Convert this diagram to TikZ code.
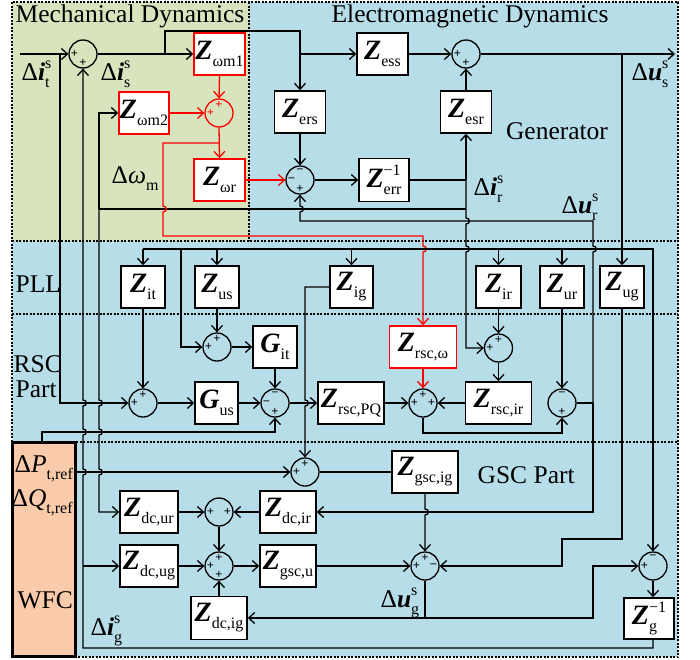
\documentclass[tikz,border=0pt]{standalone}
\usepackage{fontspec}
\setmainfont{Liberation Serif}
\usetikzlibrary{arrows.meta}
\definecolor{mech}{HTML}{D7E4BD}
\definecolor{emag}{HTML}{B7DDE8}
\definecolor{wfcc}{HTML}{F9CBAA}
\newcommand{\sbs}[1]{{\normalfont\fontsize{16}{16}\selectfont\raisebox{-7pt}{#1}}}
\newcommand{\supsb}[2]{{\normalfont\fontsize{16}{16}\selectfont\setbox0=\hbox{#1}\setbox2=\hbox{#2}\ifdim\wd0>\wd2 \dimen0=\wd0 \else \dimen0=\wd2 \fi\makebox[\dimen0][l]{\rlap{\raisebox{11.5pt}{#1}}\raisebox{-7pt}{#2}}}}
\newcommand{\bigZ}{{\fontsize{28}{28}\selectfont\bfseries\itshape Z}}
\newcommand{\bigG}{{\fontsize{28}{28}\selectfont\bfseries\itshape G}}
\newcommand{\Zl}[1]{\bigZ\sbs{#1}}
\newcommand{\Gl}[1]{\bigG\sbs{#1}}
\newcommand{\Zinv}[1]{\bigZ\supsb{−1}{#1}}
\newcommand{\sT}[3][black]{\node[sg,text=#1] at ([yshift=8.5pt]#2.center) {#3};}
\newcommand{\sB}[3][black]{\node[sg,text=#1] at ([yshift=-8.5pt]#2.center) {#3};}
\newcommand{\sL}[3][black]{\node[sg,text=#1] at ([xshift=-8.5pt]#2.center) {#3};}
\newcommand{\sR}[3][black]{\node[sg,text=#1] at ([xshift=8.5pt]#2.center) {#3};}
\begin{document}
\begin{tikzpicture}[x=1pt,y=-1pt,line width=1.3pt,
  arr/.style={-{Straight Barb[length=6pt,width=11pt,line width=1.3pt]}},
  blk/.style={draw,line width=1.5pt,fill=white,inner sep=0pt,minimum height=42pt},
  rblk/.style={blk,draw=red},
  sumc/.style={circle,draw,line width=1.3pt,minimum size=28pt,inner sep=0pt},
  sg/.style={inner sep=0pt,font=\fontsize{12.5}{12.5}\selectfont\bfseries},
  txt/.style={inner sep=0pt,font=\fontsize{25.5}{27}\selectfont},
  reg/.style={line width=1.3pt,dash pattern=on 2pt off 1.5pt}]
\useasboundingbox (0,0) rectangle (700,659);
% regions
\fill[emag] (12,2) rectangle (678,657);
\fill[mech] (12,2) rectangle (249,241);
\draw[reg] (12,2) rectangle (678,657);
\draw[reg] (249,2) -- (249,241);
\draw[reg] (12,241) -- (678,241);
\draw[reg] (12,314) -- (678,314);
\draw[reg] (76,442) -- (678,442);
\node[draw,line width=2.2pt,fill=wfcc,minimum width=63pt,minimum height=214pt,inner sep=0pt] (wfc) at (44,549.5) {};
% region texts
\node[txt,anchor=base] (tmech) at (130,22) {Mechanical Dynamics};
\node[txt,anchor=base] (temag) at (470,22) {Electromagnetic Dynamics};
\node[txt,anchor=base] (tgen) at (557,139) {Generator};
\node[txt,anchor=base west] (tpll) at (15,292) {PLL};
\node[txt,anchor=base west] (trsc) at (13,372) {RSC};
\node[txt,anchor=base west] (tpart) at (15,397) {Part};
\node[txt,anchor=base west] (tgsc) at (477,483) {GSC Part};
\node[txt,anchor=base west] (twfc) at (17,608) {WFC};
\node[txt,anchor=base west] (tp) at (14,472) {Δ\textit{P}\sbs{t,ref}};
\node[txt,anchor=base west] (tq) at (11,506) {Δ\textit{Q}\sbs{t,ref}};
% signal labels
\node[txt,anchor=base west] (lit) at (21,80) {Δ\textbf{\textit{i}}\supsb{s}{t}};
\node[txt,anchor=base west] (lis) at (100,80) {Δ\textbf{\textit{i}}\supsb{s}{s}};
\node[txt,anchor=base west] (lwm) at (111,183) {Δ\textit{ω}\sbs{m}};
\node[txt,anchor=base west] (lir) at (473,195) {Δ\textbf{\textit{i}}\supsb{s}{r}};
\node[txt,anchor=base west] (lur) at (561,213) {Δ\textbf{\textit{u}}\supsb{s}{r}};
\node[txt,anchor=base west] (lus) at (631,80) {Δ\textbf{\textit{u}}\supsb{s}{s}};
\node[txt,anchor=base west] (lug) at (380,607) {Δ\textbf{\textit{u}}\supsb{s}{g}};
\node[txt,anchor=base west] (lig) at (90,635) {Δ\textbf{\textit{i}}\supsb{s}{g}};
% blocks
\node[rblk,minimum width=51pt] (wm1) at (219.5,54) {\Zl{ωm1}};
\node[rblk,minimum width=50pt] (wm2) at (144,113) {\Zl{ωm2}};
\node[rblk,minimum width=51pt] (wr) at (219.5,180) {\Zl{ωr}};
\node[blk,minimum width=51pt] (ess) at (382.5,54) {\Zl{ess}};
\node[blk,minimum width=51pt] (ers) at (300,112) {\Zl{ers}};
\node[blk,minimum width=51pt] (esr) at (466,112) {\Zl{esr}};
\node[blk,minimum width=50pt,minimum height=43pt] (err) at (384,180) {\Zinv{err}};
\node[blk,minimum width=44pt] (Zit) at (143,287) {\Zl{it}};
\node[blk,minimum width=44pt] (Zus) at (217,287) {\Zl{us}};
\node[blk,minimum width=43pt] (Zig) at (351.5,287) {\Zl{ig}};
\node[blk,minimum width=45pt] (Zir) at (498.5,287) {\Zl{ir}};
\node[blk,minimum width=44pt] (Zur) at (562,287) {\Zl{ur}};
\node[blk,minimum width=44pt] (Zug) at (622,287) {\Zl{ug}};
\node[blk,minimum width=44pt] (Git) at (275,347) {\Gl{it}};
\node[blk,minimum width=43pt] (Gus) at (216.5,403) {\Gl{us}};
\node[blk,minimum width=66pt] (Zpq) at (351,403) {\Zl{rsc,PQ}};
\node[rblk,minimum width=67pt] (Zrw) at (423,347) {\Zl{rsc,ω}};
\node[blk,minimum width=66pt] (Zrir) at (498.5,403) {\Zl{rsc,ir}};
\node[blk,minimum width=66pt] (Zgig) at (425,472) {\Zl{gsc,ig}};
\node[blk,minimum width=58pt] (Zdcur) at (149,512) {\Zl{dc,ur}};
\node[blk,minimum width=56pt] (Zdcir) at (288,512) {\Zl{dc,ir}};
\node[blk,minimum width=58pt] (Zdcug) at (149,566) {\Zl{dc,ug}};
\node[blk,minimum width=56pt] (Zgsu) at (288,566) {\Zl{gsc,u}};
\node[blk,minimum width=56pt,minimum height=43pt] (Zdcig) at (219,618) {\Zl{dc,ig}};
\node[blk,minimum width=50pt,minimum height=41pt] (Zg) at (649,618.5) {\Zinv{g}};
% summing junctions
\node[sumc] (S1) at (83,54) {};
\node[sumc,draw=red] (Sw) at (219,113) {};
\node[sumc] (F) at (300,180) {};
\node[sumc] (G) at (466,54) {};
\node[sumc] (A) at (143,403) {};
\node[sumc] (B) at (217,347) {};
\node[sumc] (C) at (275,403) {};
\node[sumc] (D) at (423,403) {};
\node[sumc] (H) at (498.5,348) {};
\node[sumc] (E) at (562,403) {};
\node[sumc] (P) at (305,472) {};
\node[sumc] (U) at (219,512) {};
\node[sumc] (L) at (219,566) {};
\node[sumc] (Ug) at (425,566) {};
\node[sumc] (Gg) at (653,566) {};
% signs
\sL{S1}{+}\sB{S1}{+}
\sT[red]{Sw}{+}\sL[red]{Sw}{+}
\sT{F}{−}\sL{F}{−}\sB{F}{+}
\sL{G}{+}\sB{G}{+}
\sT{A}{+}\sL{A}{+}
\sT{B}{+}\sL{B}{+}
\sT{C}{−}\sL{C}{−}\sB{C}{+}
\sT{D}{+}\sL{D}{+}\sR{D}{+}
\sT{H}{+}\sL{H}{+}
\sT{E}{−}\sB{E}{+}
\sT{P}{+}\sL{P}{+}
\sL{U}{+}\sR{U}{+}
\sT{L}{+}\sL{L}{+}\sB{L}{+}
\sT{Ug}{+}\sL{Ug}{+}\sR{Ug}{−}
\sT{Gg}{−}\sL{Gg}{+}
% coordinates
\coordinate (tin) at (20,54);
\coordinate (usout) at (675,54);
\coordinate (busL) at (143,249);
% ---- generator / mechanical
\draw[arr] (tin) -- (S1.west);
\draw[arr] (S1.east) -- (wm1.west);
\draw[arr] (165,54) -- (165,31) -| (ers.north);
\draw[arr] (ers.north |- S1) -- (ess.west);
\draw[arr] (ess.east) -- (G.west);
\draw[arr] (G.east) -- (usout);
\draw[arr] (622,54) -- (Zug.north);
\draw[arr] (esr.north) -- (G.south);
\draw[arr] (ers.south) -- (F.north);
\draw[arr] (F.east) -- (err.west);
\draw (err.east) -- (466,180);
\draw[arr] (466,180) -- (esr.south);
\draw[arr] (466,180) -- (466,218) .. controls (470.5,218) and (470.5,224) .. (466,224)
  -- (466,246) .. controls (470.5,246) and (470.5,252) .. (466,252) |- (H.west);
\draw (466,209) -- (99,209);
\draw[arr] (99,209) |- (wm2.west);
\draw[arr] (99,209) -- (99,400) .. controls (103.5,400) and (103.5,406) .. (99,406)
  -- (99,429) .. controls (103.5,429) and (103.5,435) .. (99,435)
  -- (99,469) .. controls (103.5,469) and (103.5,475) .. (99,475) |- (Zdcur.west);
\draw[arr] (593,403) -- (593,252) .. controls (597.5,252) and (597.5,246) .. (593,246)
  -- (593,221) -- (300,221) -- (300,212) .. controls (304.5,212) and (304.5,206) .. (300,206) -- (F.south);
\draw[arr] (593,403) |- (Zdcir.east);
% red paths
\draw[arr,red] (wm1.south) -- (Sw.north);
\draw[arr,red] (wm2.east) -- (Sw.west);
\draw[arr,red] (Sw.south) -- (wr.north);
\draw[arr,red] (wr.east) -- (F.west);
\draw[arr,red] (219,143) -- (163,143) -- (163,206) .. controls (167.5,206) and (167.5,212) .. (163,212)
  -- (163,236) -- (423,236) -- (423,246) .. controls (427.5,246) and (427.5,252) .. (423,252) -- (Zrw.north);
\draw[arr,red] (Zrw.south) -- (D.north);
% ---- PLL and RSC
\draw[arr] (busL) -- (Zit.north);
\draw[arr] (busL) -| (Gg.north);
\draw[arr] (Zus.north |- busL) -- (Zus.north);
\draw[arr] (Zig.north |- busL) -- (Zig.north);
\draw[arr] (Zir.north |- busL) -- (Zir.north);
\draw[arr] (Zur.north |- busL) -- (Zur.north);
\draw[arr] (181,249) |- (B.west);
\draw[arr] (60,54) |- (A.west);
\draw[arr] (Zit.south) -- (A.north);
\draw[arr] (Zus.south) -- (B.north);
\draw[arr] (A.east) -- (Gus.west);
\draw[arr] (B.east) -- (Git.west);
\draw[arr] (Git.south) -- (C.north);
\draw[arr] (Gus.east) -- (C.west);
\draw[arr] (42,441) -- (42,432) -| (C.south);
\draw[arr] (C.east) -- (Zpq.west);
\draw[arr] (Zig.west) -- (305,287) -- (305,400) .. controls (309.5,400) and (309.5,406) .. (305,406) -- (P.north);
\draw[arr] (Zpq.east) -- (D.west);
\draw[arr] (Zrir.west) -- (D.east);
\draw[arr] (D.south) -- (423,433) -| (E.south);
\draw[arr] (Zur.south) -- (E.north);
\draw (E.east) -- (593,403);
\draw[arr] (Zir.south) -- (H.north);
\draw[arr] (H.south) -- (Zrir.north);
% ---- GSC
\draw[arr] (wfc.east |- P) -- (P.west);
\draw (P.east) -- (Zgig.west);
\draw[arr] (Zdcur.east) -- (U.west);
\draw[arr] (Zdcir.west) -- (U.east);
\draw[arr] (U.south) -- (L.north);
\draw[arr] (Zdcug.east) -- (L.west);
\draw[arr] (Zdcig.north) -- (L.south);
\draw[arr] (L.east) -- (Zgsu.west);
\draw[arr] (Zgsu.east) -- (Ug.west);
\draw[arr] (Zgig.south) -- (425,509) .. controls (429.5,509) and (429.5,515) .. (425,515) -- (Ug.north);
\draw[arr] (Zug.south) -- (622,539) -- (562,539) -- (562,566) -- (Ug.east);
\draw (Ug.south) -- (425,618);
\draw[arr] (425,618) -- (Zdcig.east);
\draw[arr] (425,618) -- (593,618) |- (Gg.west);
\draw[arr] (Gg.south) -- (Gg.south |- Zg.north);
\draw[arr] (Gg.south |- Zg.south) -- (653,648) -- (83,648) -- (83,475) .. controls (87.5,475) and (87.5,469) .. (83,469)
  -- (83,435) .. controls (87.5,435) and (87.5,429) .. (83,429)
  -- (83,406) .. controls (87.5,406) and (87.5,400) .. (83,400) -- (S1.south);
\draw[arr] (83,566) -- (Zdcug.west);
\end{tikzpicture}
\end{document}
